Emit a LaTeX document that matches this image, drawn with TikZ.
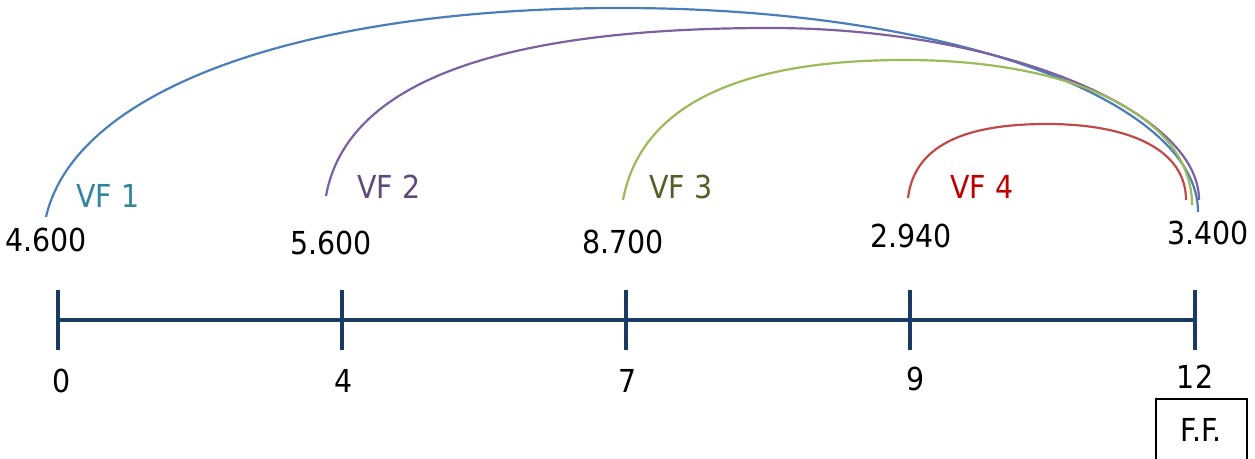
\documentclass[tikz,border=0pt]{standalone}
\usepackage{fontspec}
\setmainfont{DejaVu Sans Condensed}
\definecolor{axisnavy}{HTML}{1B3A63}
\definecolor{arcblue}{HTML}{4A7EBB}
\definecolor{arcpurple}{HTML}{7D60A0}
\definecolor{arcgreen}{HTML}{9BBB59}
\definecolor{arcred}{HTML}{BE4B48}
\definecolor{lblteal}{HTML}{31859C}
\definecolor{lblpurple}{HTML}{5F497A}
\definecolor{lblgreen}{HTML}{4F6228}
\definecolor{lblred}{HTML}{C00000}
\begin{document}
\begin{tikzpicture}[x=0.02cm,y=-0.02cm,
  lbl/.style={inner sep=0pt,anchor=center,font=\fontsize{18}{21}\selectfont},
  axisline/.style={draw=axisnavy,line width=2.3pt},
  tickline/.style={draw=axisnavy,line width=2pt},
  arcline/.style={line width=1.25pt}]
\useasboundingbox (0,0) rectangle (1255,459);
% axis
\coordinate (a0) at (58,320);
\coordinate (a4) at (342,320);
\coordinate (a7) at (626,320);
\coordinate (a9) at (910,320);
\coordinate (a12) at (1195,320);
\draw[axisline] (a0) -- (a12);
\foreach \n in {a0,a4,a7,a9,a12}{
  \draw[tickline] ([yshift=0.6cm]\n) -- ([yshift=-0.6cm]\n);
}
% tick labels
\node[lbl] (t0) at (62,381) {0};
\node[lbl] (t4) at (344,381) {4};
\node[lbl] (t7) at (628,381) {7};
\node[lbl] (t9) at (916,379) {9};
\node[lbl] (t12) at (1195,377) {12};
% values
\node[lbl] (v1) at (46,240) {4.600};
\node[lbl] (v2) at (331,243) {5.600};
\node[lbl] (v3) at (623,242) {8.700};
\node[lbl] (v4) at (911,236) {2.940};
\node[lbl] (v5) at (1208,233) {3.400};
% VF labels
\node[lbl,text=lblteal] (f1) at (108,196) {VF 1};
\node[lbl,text=lblpurple] (f2) at (389,187) {VF 2};
\node[lbl,text=lblgreen] (f3) at (681,187) {VF 3};
\node[lbl,text=lblred] (f4) at (982,187) {VF 4};
% F.F. box
\node[lbl] (ff) at (1201,430) {F.F.};
\draw[black,line width=0.6pt] (1156,470) -- (1156,399) -- (1247,399) -- (1247,470);
% arcs
\coordinate (s1) at (46,217); \coordinate (e1) at (1198,212);
\coordinate (s2) at (326,196); \coordinate (e2) at (1199,200);
\coordinate (s3) at (623,200); \coordinate (e3) at (1192,205);
\coordinate (s4) at (908,198); \coordinate (e4) at (1186,200);
\draw[arcline,arcblue] (s1) .. controls (75,90) and (300,8) .. (620,8)
   .. controls (950,8) and (1198,100) .. (e1);
\draw[arcline,arcpurple] (s2) .. controls (345,90) and (480,28) .. (770,28)
   .. controls (1000,28) and (1199,110) .. (e2);
\draw[arcline,arcgreen] (s3) .. controls (640,110) and (730,60) .. (905,60)
   .. controls (1080,60) and (1192,120) .. (e3);
\draw[arcline,arcred] (s4) .. controls (915,140) and (975,124) .. (1047,124)
   .. controls (1130,124) and (1186,150) .. (e4);
\end{tikzpicture}
\end{document}
